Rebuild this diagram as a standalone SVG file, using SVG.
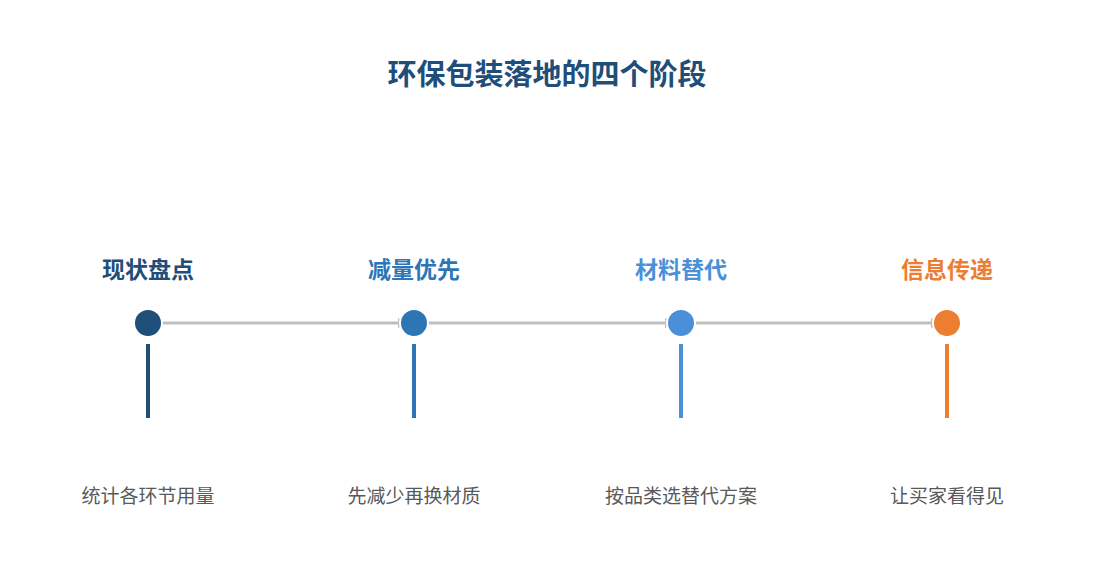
<svg xmlns="http://www.w3.org/2000/svg" width="1095" height="585" viewBox="0 0 1095 585">
<style>
text{font-family:"Liberation Sans","Noto Sans CJK SC",sans-serif;text-anchor:middle}
.title{font-size:29px;font-weight:bold;fill:#1f4e79}
.label{font-size:23px;font-weight:bold}
.desc{font-size:19px;fill:#595959}
.conn{stroke:#bfbfbf;stroke-width:3;fill:none}
.node circle{stroke:#fff;stroke-width:2}
.stem{stroke-width:4}
</style>
<defs>
<marker id="arr" viewBox="0 0 10 10" refX="10" refY="5" markerWidth="3.5" markerHeight="3.5" orient="auto">
<path d="M0,0 L10,5 L0,10 z" fill="#bfbfbf"/>
</marker>
</defs>
<rect width="1095" height="585" fill="#fff"/>
<text class="title" x="547" y="85">环保包装落地的四个阶段</text>
<g id="connectors">
<line class="conn" x1="162" y1="323" x2="408" y2="323" marker-end="url(#arr)"/>
<line class="conn" x1="428" y1="323" x2="675" y2="323" marker-end="url(#arr)"/>
<line class="conn" x1="695" y1="323" x2="941" y2="323" marker-end="url(#arr)"/>
</g>
<g id="node1" class="node">
<text class="label" x="148" y="278" fill="#1f4e79">现状盘点</text>
<circle cx="148" cy="323" r="14" fill="#1f4e79"/>
<line class="stem" x1="148" y1="344" x2="148" y2="418" stroke="#1f4e79"/>
<text class="desc" x="148" y="503">统计各环节用量</text>
</g>
<g id="node2" class="node">
<text class="label" x="414" y="278" fill="#2e75b6">减量优先</text>
<circle cx="414" cy="323" r="14" fill="#2e75b6"/>
<line class="stem" x1="414" y1="344" x2="414" y2="418" stroke="#2e75b6"/>
<text class="desc" x="414" y="503">先减少再换材质</text>
</g>
<g id="node3" class="node">
<text class="label" x="681" y="278" fill="#4a90d9">材料替代</text>
<circle cx="681" cy="323" r="14" fill="#4a90d9"/>
<line class="stem" x1="681" y1="344" x2="681" y2="418" stroke="#4a90d9"/>
<text class="desc" x="681" y="503">按品类选替代方案</text>
</g>
<g id="node4" class="node">
<text class="label" x="947" y="278" fill="#ed7d31">信息传递</text>
<circle cx="947" cy="323" r="14" fill="#ed7d31"/>
<line class="stem" x1="947" y1="344" x2="947" y2="418" stroke="#ed7d31"/>
<text class="desc" x="947" y="503">让买家看得见</text>
</g>
</svg>
